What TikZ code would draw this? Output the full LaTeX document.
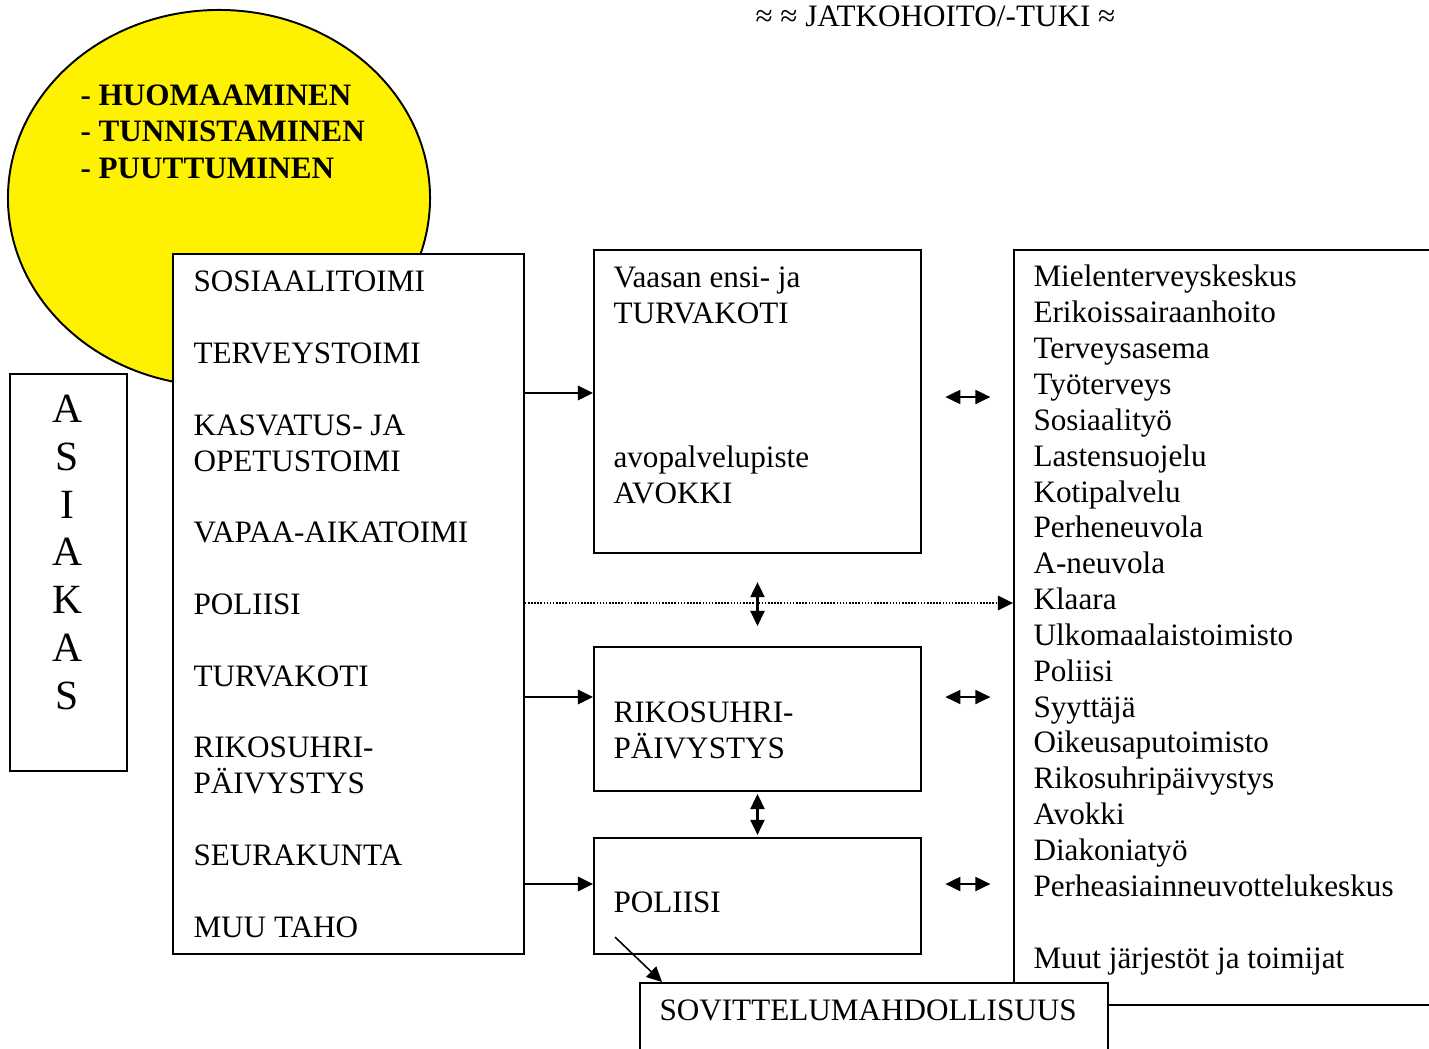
\documentclass[tikz,border=0pt]{standalone}
\usepackage{fontspec}
\setmainfont{Liberation Serif}
\usetikzlibrary{shapes.geometric, arrows.meta, positioning, calc}

\begin{document}
\begin{tikzpicture}[
    x=0.385pt, y=-0.385pt,
    box/.style={draw, line width=0.75pt, fill=white, anchor=north west, inner sep=0pt},
    txt/.style={anchor=base west, align=left, inner sep=0pt, font=\fontsize{12}{13.8}\selectfont},
    arr/.style={-{Triangle[length=5.8pt, width=5.6pt]}, line width=0.6pt},
    dbl/.style={{Triangle[length=5.8pt, width=5.4pt]}-{Triangle[length=5.8pt, width=5.4pt]}, line width=0.8pt}
]
    \useasboundingbox (0,0) rectangle (1429,1048);

    \node[txt] (otsikko) at (755,26) {≈ ≈ JATKOHOITO/-TUKI ≈};

    \node[draw, ellipse, line width=0.75pt, fill=yellow, inner sep=0pt, minimum width=162.5pt, minimum height=144.8pt] (pallo) at (219,198) {};
    \node[txt, font=\fontsize{12}{13.9}\selectfont\bfseries] (tehtavat) at (80,178) {- HUOMAAMINEN\\ - TUNNISTAMINEN\\ - PUUTTUMINEN};

    \node[box, minimum width=45pt, minimum height=152.8pt] (asiakas) at (9,373) {};
    \node[anchor=base, align=center, inner sep=0pt, font=\fontsize{16}{18.37}\selectfont] (asiakasTxt) at (67.5,709) {A\\ S\\ I\\ A\\ K\\ A\\ S};

    \node[box, minimum width=135.1pt, minimum height=269.5pt] (toimijat) at (172,253) {};
    \node[txt] (toimijatTxt) at (193,937) {SOSIAALITOIMI\\[13.8pt] TERVEYSTOIMI\\[13.8pt] KASVATUS- JA\\ OPETUSTOIMI\\[13.8pt] VAPAA-AIKATOIMI\\[13.8pt] POLIISI\\[13.8pt] TURVAKOTI\\[13.8pt] RIKOSUHRI-\\ PÄIVYSTYS\\[13.8pt] SEURAKUNTA\\[13.8pt] MUU TAHO};

    \node[box, minimum width=125.9pt, minimum height=116.7pt] (turvakoti) at (593,249) {};
    \node[txt] (turvakotiTxt) at (613,503) {Vaasan ensi- ja\\ TURVAKOTI\\[41.4pt] avopalvelupiste\\ AVOKKI};

    \node[box, minimum width=125.9pt, minimum height=55.4pt] (rikosuhri) at (593,646) {};
    \node[txt] (rikosuhriTxt) at (613,758) {RIKOSUHRI-\\ PÄIVYSTYS};

    \node[box, minimum width=125.9pt, minimum height=44.7pt] (poliisi) at (593,837) {};
    \node[txt] (poliisiTxt) at (613,912) {POLIISI};

    \node[box, minimum width=168.2pt, minimum height=290.7pt] (palvelut) at (1013,249) {};
    \node[txt] (palvelutTxt) at (1033,968) {Mielenterveyskeskus\\ Erikoissairaanhoito\\ Terveysasema\\ Työterveys\\ Sosiaalityö\\ Lastensuojelu\\ Kotipalvelu\\ Perheneuvola\\ A-neuvola\\ Klaara\\ Ulkomaalaistoimisto\\ Poliisi\\ Syyttäjä\\ Oikeusaputoimisto\\ Rikosuhripäivystys\\ Avokki\\ Diakoniatyö\\ Perheasiainneuvottelukeskus\\[13.8pt] Muut järjestöt ja toimijat};

    \node[box, minimum width=180.2pt, minimum height=34.7pt] (sovittelu) at (639,982) {};
    \node[txt] (sovitteluTxt) at (659,1020) {SOVITTELUMAHDOLLISUUS};

    \draw[arr] (toimijat.east |- 0,393) -- (turvakoti.west |- 0,393);
    \draw[arr] (toimijat.east |- 0,697) -- (rikosuhri.west |- 0,697);
    \draw[arr] (toimijat.east |- 0,884) -- (poliisi.west |- 0,884);
    \draw[arr, dash pattern=on 0.6pt off 0.6pt] (toimijat.east |- 0,603) -- (palvelut.west |- 0,603);

    \draw[dbl, shorten <=10.8pt, shorten >=7.7pt] (turvakoti.south) -- (rikosuhri.north);
    \draw[dbl, shorten <=0.8pt, shorten >=0.8pt] (rikosuhri.south) -- (poliisi.north);

    \draw[dbl, shorten <=9pt, shorten >=8.7pt] (turvakoti.east |- 0,397) -- (palvelut.west |- 0,397);
    \draw[dbl, shorten <=9pt, shorten >=8.7pt] (rikosuhri.east |- 0,697) -- (palvelut.west |- 0,697);
    \draw[dbl, shorten <=9pt, shorten >=8.7pt] (poliisi.east |- 0,884) -- (palvelut.west |- 0,884);

    \draw[arr] ([shift={(22,-18)}]poliisi.south west) -- ([shift={(23,0)}]sovittelu.north west);
\end{tikzpicture}
\end{document}
